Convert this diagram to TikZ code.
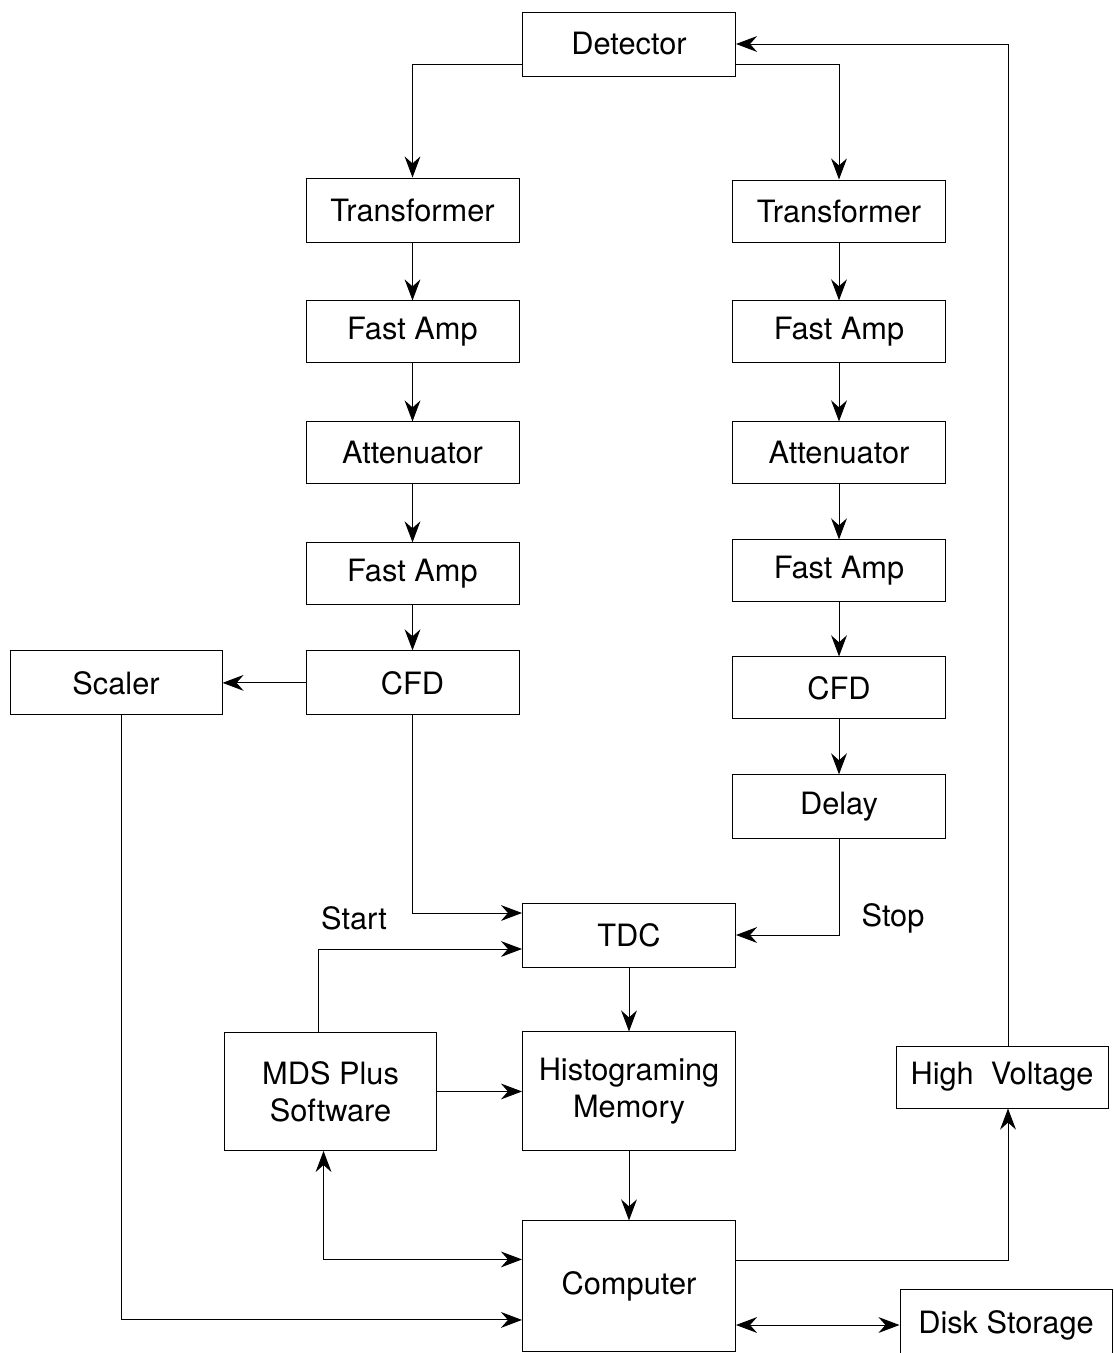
\documentclass[tikz,border=0pt]{standalone}
\usepackage{fontspec}
\setmainfont{TeX Gyre Heros}
\usepackage{tikz}
\usetikzlibrary{positioning}
\usetikzlibrary{calc}
\usetikzlibrary{arrows.meta}
\tikzstyle{block} = [draw, line width=0.55pt, minimum width=4.26cm, minimum height=1.24cm, inner sep=0pt, align=center, font=\fontsize{17.5}{21}\selectfont]
\tikzstyle{tag} = [font=\fontsize{17.5}{21}\selectfont]
\tikzstyle{forward} = [-{Stealth[length=12pt, width=9pt, inset=4pt]}, line width=0.55pt]
\tikzstyle{twoway} = [{Stealth[length=12pt, width=9pt, inset=4pt]}-{Stealth[length=12pt, width=9pt, inset=4pt]}, line width=0.55pt]

\begin{document}
\begin{tikzpicture}[node distance=1.16cm]
		\useasboundingbox (0,0) rectangle (22.26,-27.06);
		
		%
		% Detector
		\node [block, minimum height=1.28cm] at (12.58,-0.88) (det) {Detector};
		
		%
		% Start branch
		\node [block, minimum height=1.28cm] at (8.25,-4.2) (trans_l) {Transformer};
		\node [block, below=of trans_l] (fast1_l) {Fast Amp};
		\node [block, below=of fast1_l] (att_l) {Attenuator};
		\node [block, below=of att_l] (fast2_l) {Fast Amp};
		\node [block, below=0.9cm of fast2_l, minimum height=1.28cm] (cfd_l) {CFD};
		\node [block, left=1.66cm of cfd_l, minimum width=4.24cm, minimum height=1.28cm] (scaler) {Scaler};
		
		\draw [forward] ([yshift=-0.4cm]det.west) -| (trans_l);
		\draw [forward] (trans_l) -- (fast1_l);
		\draw [forward] (fast1_l) -- (att_l);
		\draw [forward] (att_l) -- (fast2_l);
		\draw [forward] (fast2_l) -- (cfd_l);
		\draw [forward] (cfd_l) -- (scaler);
		
		%
		% Stop branch
		\node [block] at (16.78,-4.22) (trans_r) {Transformer};
		\node [block, below=of trans_r] (fast1_r) {Fast Amp};
		\node [block, below=of fast1_r] (att_r) {Attenuator};
		\node [block, below=1.1cm of att_r] (fast2_r) {Fast Amp};
		\node [block, below=1.08cm of fast2_r] (cfd_r) {CFD};
		\node [block, below=1.1cm of cfd_r, minimum height=1.28cm] (delay) {Delay};
		
		\draw [forward] ([yshift=-0.4cm]det.east) -| (trans_r);
		\draw [forward] (trans_r) -- (fast1_r);
		\draw [forward] (fast1_r) -- (att_r);
		\draw [forward] (att_r) -- (fast2_r);
		\draw [forward] (fast2_r) -- (cfd_r);
		\draw [forward] (cfd_r) -- (delay);
		
		%
		% Timing and readout
		\node [block, minimum height=1.28cm] at (12.58,-18.7) (tdc) {TDC};
		\node [block, below=1.28cm of tdc, minimum height=2.38cm] (histo) {Histograming\\Memory};
		\node [block, left=1.7cm of histo, minimum width=4.24cm, minimum height=2.36cm] (mds) {MDS Plus\\Software};
		\node [block, below=1.38cm of histo, minimum height=2.62cm] (computer) {Computer};
		\node [block, minimum width=4.24cm] at (20.04,-21.54) (hv) {High\ \ Voltage};
		\node [block, minimum width=4.24cm, minimum height=1.44cm] at (20.12,-26.5) (disk) {Disk Storage};
		
		\node [tag] at (7.08,-18.36) (start) {Start};
		\node [tag] at (17.86,-18.36) (stop) {Stop};
		
		\draw [forward] (cfd_l) |- ([yshift=0.44cm]tdc.west);
		\draw [forward] (delay) |- (tdc);
		\draw [forward] ([xshift=-0.24cm]mds.north) |- ([yshift=-0.28cm]tdc.west);
		\draw [forward] (tdc.south) -- (tdc.south |- histo.north);
		\draw [forward] (mds) -- (histo);
		\draw [forward] (histo) -- (computer);
		\draw [twoway] ([xshift=-0.14cm]mds.south) |- ([yshift=0.54cm]computer.west);
		\draw [forward] ([xshift=0.1cm]scaler.south) |- ([yshift=-0.67cm]computer.west);
		\draw [twoway] (disk.west -| computer.east) -- (disk.west);
		
		% High voltage loop
		\draw [forward] ([yshift=0.51cm]computer.east) -| ([xshift=0.12cm]hv.south);
		\draw [forward] ([xshift=0.12cm]hv.north) |- (det);
	
	\end{tikzpicture}
\end{document}
